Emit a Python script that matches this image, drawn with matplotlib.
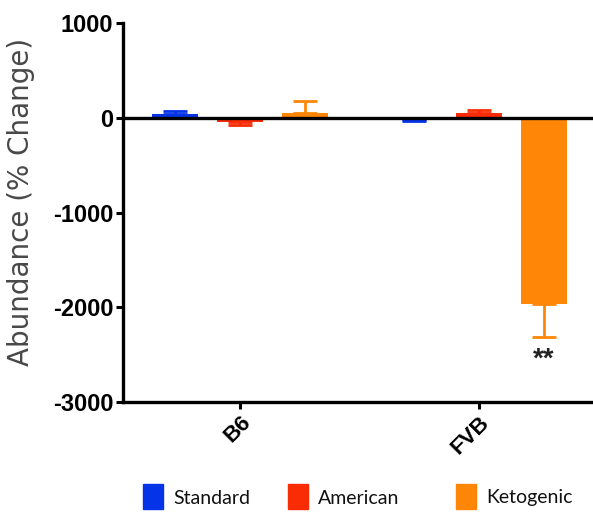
import matplotlib
matplotlib.use("Agg")
import matplotlib.pyplot as plt
from matplotlib.patches import Rectangle
import numpy as np

groups = ["B6", "FVB"]
diets = ["Standard", "American", "Ketogenic"]
colors = ["#0533E8", "#F92C06", "#FF8606"]
means = {
    "Standard": [35, -25],
    "American": [-45, 55],
    "Ketogenic": [45, -1970],
}
errors = {
    "Standard": [35, 10],
    "American": [30, 30],
    "Ketogenic": [130, 340],
}
yticks = [1000, 0, -1000, -2000, -3000]

fig = plt.figure(figsize=(5.93, 5.12), dpi=100)
ax = fig.add_axes([123/593, 110/512, 470/593, 379/512])

x = np.arange(len(groups))
offset = 0.272
width = 0.19
for i, (d, c) in enumerate(zip(diets, colors)):
    xs = x + (i - 1) * offset
    vals = np.array(means[d])
    errs = np.array(errors[d])
    ax.bar(xs, vals, width=width, color=c, zorder=2)
    lower = np.where(vals < 0, errs, 0)
    upper = np.where(vals >= 0, errs, 0)
    ax.errorbar(xs, vals, yerr=[lower, upper], fmt="none", ecolor=c,
                elinewidth=2, capsize=8.5, capthick=2, zorder=1)

ax.axhline(0, color="black", lw=2.4, zorder=3)
ax.set_xlim(-0.49, 1.477)
ax.set_ylim(-3000, 1000)
ax.set_yticks(yticks)
ax.set_yticklabels([str(t) for t in yticks], fontsize=17, fontweight="bold",
                   family="Liberation Sans")
ax.set_xticks(x)
ax.set_xticklabels(groups, fontsize=16, fontweight="bold", rotation=45,
                   ha="right", rotation_mode="anchor", family="Liberation Sans")
ax.tick_params(axis="both", width=2.2, length=5, color="black", pad=2)
for s in ["top", "right"]:
    ax.spines[s].set_visible(False)
for s in ["left", "bottom"]:
    ax.spines[s].set_linewidth(2.4)
ax.set_ylabel("Abundance (% Change)", fontsize=20, color="#484848",
              family="DejaVu Sans")
ax.yaxis.set_label_coords(-0.187, 0.529)

ax.text(x[1] + offset, -2420, "**", ha="center", va="top", fontsize=20,
        fontweight="bold", color="#222222", family="Liberation Sans")

legend_x = [143, 288, 456]
for lx, d, c in zip(legend_x, diets, colors):
    fig.patches.append(Rectangle((lx/593, 3/512), 20/593, 25/512,
                                 transform=fig.transFigure, color=c))
    fig.text((lx + 30)/593, 14/512, d, fontsize=14, va="center", ha="left",
             family="Lato", color="#111111")

fig.savefig("out.png", dpi=100)
